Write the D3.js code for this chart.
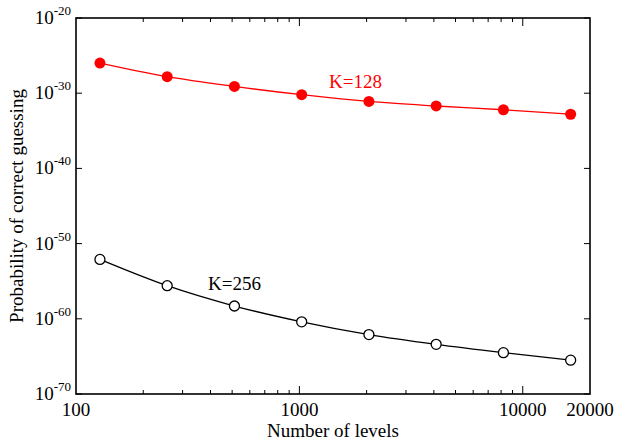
<!DOCTYPE html>
<html>
<head>
<meta charset="utf-8">
<script src="https://cdn.jsdelivr.net/npm/d3@7"></script>
<style>
  body { margin: 0; background: #fff; }
  svg text { font-family: "Liberation Serif", "Times New Roman", serif; }
</style>
</head>
<body>
<svg id="vis" width="617" height="441"></svg>
<script>
// number of levels on x axis
var levels = [128, 256, 512, 1024, 2048, 4096, 8192, 16384];
// log10 of the probability
var expK128 = [-26.0, -27.8, -29.1, -30.2, -31.1, -31.7, -32.2, -32.8];
var expK256 = [-52.1, -55.6, -58.3, -60.4, -62.1, -63.4, -64.5, -65.5];
var yTickExps = [-20, -30, -40, -50, -60, -70];
var xTickVals = [100, 1000, 10000, 20000];

var margin = {left: 76, top: 18, right: 27, bottom: 47};
var W = 617, H = 441;
var _vis = d3.select("#vis");

var x = d3.scaleLog().domain([100, 20000]).range([margin.left, W - margin.right]);
var y = d3.scaleLinear().domain([-70, -20]).range([H - margin.bottom, margin.top]);

var x0 = x.range()[0], x1 = x.range()[1], y0 = y.range()[0], y1 = y.range()[1];

// minor ticks along x (inside, top and bottom)
var minor = [];
[100, 1000, 10000].forEach(function(d) {
  for (var k = 2; k <= 9; k++) { if (d * k < 20000) minor.push(d * k); }
});
var tickG = _vis.append("g").attr("stroke", "#000").attr("stroke-width", 1);
minor.forEach(function(v) {
  tickG.append("line").attr("x1", x(v)).attr("x2", x(v)).attr("y1", y0).attr("y2", y0 - 4);
  tickG.append("line").attr("x1", x(v)).attr("x2", x(v)).attr("y1", y1).attr("y2", y1 + 4);
});
[1000, 10000].forEach(function(v) {
  tickG.append("line").attr("x1", x(v)).attr("x2", x(v)).attr("y1", y0).attr("y2", y0 - 8);
  tickG.append("line").attr("x1", x(v)).attr("x2", x(v)).attr("y1", y1).attr("y2", y1 + 8);
});
yTickExps.forEach(function(e) {
  tickG.append("line").attr("x1", x0).attr("x2", x0 + 6).attr("y1", y(e)).attr("y2", y(e));
  tickG.append("line").attr("x1", x1).attr("x2", x1 - 6).attr("y1", y(e)).attr("y2", y(e));
});

// frame
_vis.append("rect").attr("x", x0).attr("y", y1).attr("width", x1 - x0).attr("height", y0 - y1)
  .attr("fill", "none").attr("stroke", "#000").attr("stroke-width", 1.6);

// x tick labels
_vis.selectAll("text.xt").data(xTickVals).enter().append("text")
  .attr("class", "xt")
  .attr("x", function(d) { return x(d); })
  .attr("y", y0 + 22)
  .attr("text-anchor", "middle")
  .attr("font-size", 19)
  .text(function(d) { return d; });

// y tick labels with superscripts
var yl = _vis.selectAll("text.yt").data(yTickExps).enter().append("text")
  .attr("class", "yt")
  .attr("x", x0 - 5)
  .attr("y", function(d) { return y(d) + 6; })
  .attr("text-anchor", "end")
  .attr("font-size", 19);
yl.append("tspan").text("10");
yl.append("tspan").attr("dy", -9).attr("font-size", 13).text(function(d) { return d; });

// axis titles
_vis.append("text").attr("x", (x0 + x1) / 2).attr("y", 437)
  .attr("text-anchor", "middle").attr("font-size", 19).text("Number of levels");
_vis.append("text").attr("transform", "translate(23," + ((y0 + y1) / 2) + ") rotate(-90)")
  .attr("text-anchor", "middle").attr("font-size", 19).text("Probability of correct guessing");

var line = d3.line()
  .x(function(d) { return x(d[0]); })
  .y(function(d) { return y(d[1]); })
  .curve(d3.curveMonotoneX);

var s128 = levels.map(function(d, i) { return [d, expK128[i]]; });
var s256 = levels.map(function(d, i) { return [d, expK256[i]]; });

_vis.append("path").datum(s128).attr("d", line).attr("fill", "none").attr("stroke", "#ff0000").attr("stroke-width", 1.3);
_vis.append("path").datum(s256).attr("d", line).attr("fill", "none").attr("stroke", "#000").attr("stroke-width", 1.3);

_vis.selectAll("circle.k128").data(s128).enter().append("circle")
  .attr("class", "k128")
  .attr("cx", function(d) { return x(d[0]); })
  .attr("cy", function(d) { return y(d[1]); })
  .attr("r", 5.5).attr("fill", "#ff0000");

_vis.selectAll("circle.k256").data(s256).enter().append("circle")
  .attr("class", "k256")
  .attr("cx", function(d) { return x(d[0]); })
  .attr("cy", function(d) { return y(d[1]); })
  .attr("r", 5).attr("fill", "#fff").attr("stroke", "#000").attr("stroke-width", 1.3);

// series labels
_vis.append("text").attr("x", 329).attr("y", 88).attr("font-size", 19).attr("fill", "#ff0000").text("K=128");
_vis.append("text").attr("x", 208).attr("y", 290).attr("font-size", 19).attr("fill", "#000").text("K=256");
</script>
</body>
</html>
